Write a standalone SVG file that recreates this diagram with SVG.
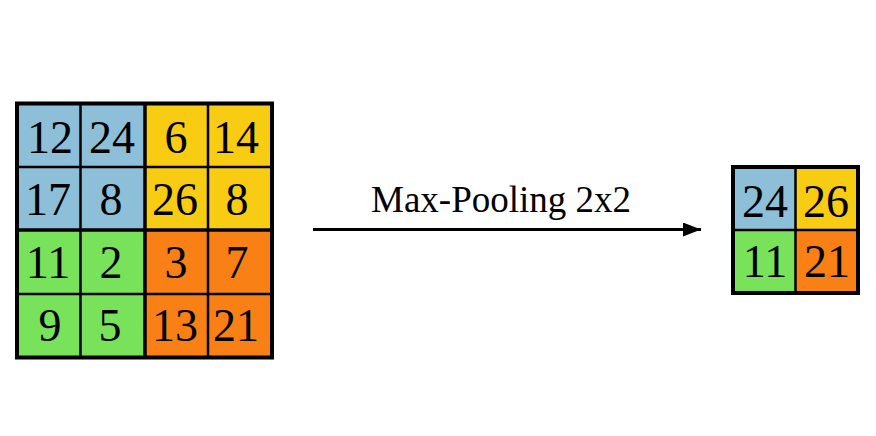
<svg xmlns="http://www.w3.org/2000/svg" width="876" height="436" viewBox="0 0 876 436">
<defs>
<style>
.num{font-family:"Liberation Serif","Times New Roman",serif;font-size:46px;fill:#000;text-anchor:middle}
.lbl{font-family:"Liberation Serif","Times New Roman",serif;font-size:37px;fill:#000}
.b{fill:#8EBFD8}.y{fill:#F8CC12}.g{fill:#78E35A}.o{fill:#F88014}
.thin{stroke:#000;stroke-width:2.5;fill:none}
.mid{stroke:#000;stroke-width:3.5;fill:none}
.outer{stroke:#000;stroke-width:4;fill:none}
</style>
<marker id="ah" viewBox="0 0 18 14" refX="18" refY="7" markerWidth="18" markerHeight="14" markerUnits="userSpaceOnUse" orient="auto">
<path d="M0,0 L18,7 L0,14 Z" fill="#000"/>
</marker>
</defs>
<rect width="876" height="436" fill="#fff"/>
<g id="input-grid">
<rect class="b" x="17" y="103.5" width="128" height="126.5"/>
<rect class="y" x="145" y="103.5" width="127" height="126.5"/>
<rect class="g" x="17" y="230" width="128" height="127.5"/>
<rect class="o" x="145" y="230" width="127" height="127.5"/>
<path class="thin" d="M80.5,103.5V357.5M208,103.5V357.5M17,167H272M17,294H272"/>
<path class="mid" d="M145,103.5V357.5M17,230H272"/>
<rect class="outer" x="17" y="103.5" width="255" height="254"/>
<text class="num" x="50" y="153">12</text>
<text class="num" x="112" y="153">24</text>
<text class="num" x="176" y="153">6</text>
<text class="num" x="236" y="153">14</text>
<text class="num" x="48" y="215">17</text>
<text class="num" x="111" y="215">8</text>
<text class="num" x="175" y="215">26</text>
<text class="num" x="237" y="215">8</text>
<text class="num" x="48" y="278">11</text>
<text class="num" x="111" y="278">2</text>
<text class="num" x="176" y="278">3</text>
<text class="num" x="237" y="278">7</text>
<text class="num" x="50" y="341">9</text>
<text class="num" x="110" y="341">5</text>
<text class="num" x="175" y="341">13</text>
<text class="num" x="236" y="341">21</text>
</g>
<g id="connectors">
<line x1="313" y1="229.5" x2="701" y2="229.5" stroke="#000" stroke-width="3" marker-end="url(#ah)"/>
<text class="lbl" x="371" y="212">Max-Pooling 2x2</text>
</g>
<g id="output-grid">
<rect class="b" x="733" y="167" width="62.5" height="63"/>
<rect class="y" x="795.5" y="167" width="62.5" height="63"/>
<rect class="g" x="733" y="230" width="62.5" height="63"/>
<rect class="o" x="795.5" y="230" width="62.5" height="63"/>
<path class="thin" d="M795.5,167V293M733,230H858"/>
<rect class="outer" x="733" y="167" width="125" height="126" stroke-width="3"/>
<text class="num" x="765" y="216.5">24</text>
<text class="num" x="826" y="216.5">26</text>
<text class="num" x="765" y="277">11</text>
<text class="num" x="827" y="277">21</text>
</g>
</svg>
